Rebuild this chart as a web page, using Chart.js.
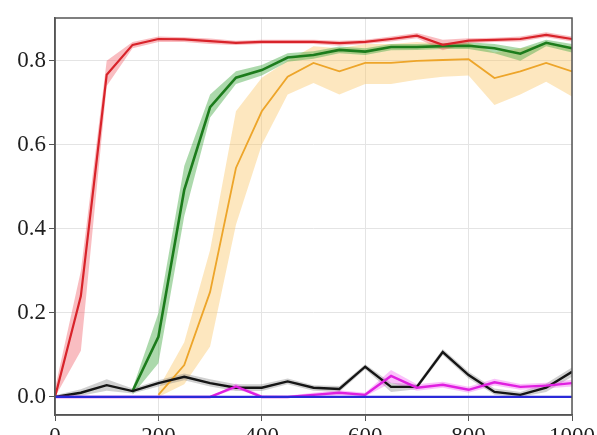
<!DOCTYPE html>
<html>
<head>
<meta charset="utf-8">
<script src="https://cdn.jsdelivr.net/npm/chart.js@4.4.1/dist/chart.umd.min.js"></script>
<style>
  html, body { margin: 0; padding: 0; background: #fff; overflow: hidden; width: 597px; height: 435px; }
  canvas { display: block; }
</style>
</head>
<body>
<canvas id="chart" width="597" height="480"></canvas>
<script>
// training steps (x)
const steps = [0, 50, 100, 150, 200, 250, 300, 350, 400, 450, 500, 550, 600, 650, 700, 750, 800, 850, 900, 950, 1000];

// red run
const redMean = [0, 0.24, 0.767, 0.838, 0.852, 0.851, 0.847, 0.843, 0.845, 0.845, 0.845, 0.842, 0.845, 0.852, 0.86, 0.838, 0.848, 0.85, 0.852, 0.862, 0.852];
const redLow  = [0, 0.11, 0.74, 0.83, 0.845, 0.845, 0.84, 0.838, 0.84, 0.84, 0.84, 0.836, 0.84, 0.846, 0.854, 0.825, 0.842, 0.845, 0.846, 0.856, 0.846];
const redHigh = [0.02, 0.30, 0.80, 0.845, 0.858, 0.856, 0.853, 0.848, 0.85, 0.85, 0.85, 0.848, 0.85, 0.858, 0.866, 0.85, 0.854, 0.855, 0.858, 0.868, 0.858];

// green run (starts at 150)
const greenMean = [null, null, null, 0.014, 0.143, 0.493, 0.69, 0.76, 0.778, 0.808, 0.814, 0.826, 0.822, 0.833, 0.833, 0.835, 0.836, 0.83, 0.817, 0.843, 0.83];
const greenLow  = [null, null, null, 0.005, 0.08, 0.43, 0.665, 0.745, 0.765, 0.798, 0.805, 0.818, 0.814, 0.825, 0.826, 0.828, 0.828, 0.818, 0.80, 0.835, 0.82];
const greenHigh = [null, null, null, 0.02, 0.20, 0.55, 0.72, 0.775, 0.79, 0.818, 0.823, 0.834, 0.83, 0.84, 0.84, 0.842, 0.844, 0.84, 0.83, 0.85, 0.84];

// orange run (starts at 200)
const orangeMean = [null, null, null, null, 0.005, 0.076, 0.25, 0.545, 0.68, 0.762, 0.795, 0.775, 0.795, 0.795, 0.8, 0.802, 0.804, 0.759, 0.775, 0.795, 0.775];
const orangeLow  = [null, null, null, null, 0, 0.03, 0.12, 0.41, 0.60, 0.72, 0.747, 0.72, 0.745, 0.745, 0.755, 0.762, 0.765, 0.695, 0.72, 0.75, 0.715];
const orangeHigh = [null, null, null, null, 0.02, 0.13, 0.35, 0.68, 0.76, 0.80, 0.835, 0.83, 0.84, 0.84, 0.845, 0.842, 0.843, 0.82, 0.83, 0.84, 0.835];

// black run
const blackMean = [0, 0.01, 0.028, 0.014, 0.033, 0.048, 0.033, 0.022, 0.022, 0.037, 0.022, 0.019, 0.072, 0.024, 0.024, 0.107, 0.052, 0.012, 0.005, 0.022, 0.06];
const blackLow  = [0, 0.003, 0.015, 0.008, 0.025, 0.04, 0.025, 0.014, 0.014, 0.03, 0.015, 0.012, 0.066, 0.012, 0.018, 0.1, 0.044, 0.005, 0, 0.012, 0.048];
const blackHigh = [0.004, 0.018, 0.042, 0.02, 0.04, 0.056, 0.042, 0.03, 0.03, 0.044, 0.028, 0.026, 0.078, 0.034, 0.03, 0.114, 0.06, 0.02, 0.012, 0.032, 0.07];

// magenta run
const magentaMean = [0, 0, 0, 0, 0, 0, 0, 0.025, 0, 0, 0.005, 0.01, 0.005, 0.05, 0.022, 0.029, 0.017, 0.035, 0.024, 0.027, 0.033];
const magentaLow  = [0, 0, 0, 0, 0, 0, 0, 0.018, 0, 0, 0.001, 0.004, 0.001, 0.034, 0.015, 0.022, 0.01, 0.027, 0.017, 0.02, 0.025];
const magentaHigh = [0, 0, 0, 0, 0, 0, 0, 0.032, 0.004, 0.003, 0.01, 0.016, 0.01, 0.064, 0.03, 0.036, 0.024, 0.043, 0.031, 0.034, 0.041];

// blue run
const blueMean = [0, 0, 0, 0, 0, 0, 0, 0, 0, 0, 0, 0, 0, 0, 0, 0, 0, 0, 0, 0, 0];

// tick values
const yTicks = [0, 0.2, 0.4, 0.6, 0.8];
const xTicks = [0, 200, 400, 600, 800, 1000];

const pts = (arr) => steps.map((s, i) => ({ x: s, y: arr[i] }));

const series = [
  { mean: blueMean, line: '#2a2ad8', width: 2.2 },
  { mean: magentaMean, low: magentaLow, high: magentaHigh, line: '#e020e0', band: 'rgba(240, 80, 240, 0.35)', width: 2.4 },
  { mean: blackMean, low: blackLow, high: blackHigh, line: '#151515', band: 'rgba(120, 120, 120, 0.35)', width: 2.4 },
  { mean: redMean, low: redLow, high: redHigh, line: '#d8232a', band: 'rgba(240, 90, 100, 0.4)', width: 2.2 },
  { mean: greenMean, low: greenLow, high: greenHigh, line: '#1c7c1c', band: 'rgba(70, 170, 70, 0.45)', width: 2.6 },
  { mean: orangeMean, low: orangeLow, high: orangeHigh, line: '#eda52a', band: 'rgba(250, 195, 95, 0.4)', width: 1.8 }
];

// lines first (first dataset is drawn on top), bands after
const datasets = [];
series.forEach(s => {
  datasets.push({
    data: pts(s.mean),
    borderColor: s.line,
    borderWidth: s.width,
    pointRadius: 0,
    tension: 0,
    fill: false
  });
});
series.forEach(s => {
  if (!s.low) return;
  const lowIndex = datasets.length;
  datasets.push({
    data: pts(s.low),
    borderColor: 'transparent',
    borderWidth: 0,
    pointRadius: 0,
    fill: false
  });
  datasets.push({
    data: pts(s.high),
    borderColor: 'transparent',
    borderWidth: 0,
    pointRadius: 0,
    backgroundColor: s.band,
    fill: { target: lowIndex }
  });
});

// frame around the plot area (top and right spines)
const frame = {
  id: 'frame',
  afterDraw(chart) {
    const { ctx, chartArea: a } = chart;
    ctx.save();
    ctx.strokeStyle = '#555';
    ctx.lineWidth = 1.5;
    ctx.strokeRect(a.left, a.top, a.right - a.left, a.bottom - a.top);
    ctx.restore();
  }
};

const tickFont = { family: "'Liberation Serif', 'Times New Roman', Times, serif", size: 23 };

new Chart(document.getElementById('chart'), {
  type: 'line',
  data: { datasets },
  plugins: [frame],
  options: {
    responsive: false,
    animation: false,
    devicePixelRatio: 1,
    layout: { padding: { top: 18, right: 23, left: 0, bottom: 0 } },
    plugins: {
      legend: { display: false },
      tooltip: { enabled: false },
      filler: { drawTime: 'beforeDatasetsDraw' }
    },
    scales: {
      x: {
        type: 'linear',
        min: 0,
        max: 1000,
        afterBuildTicks: (scale) => { scale.ticks = xTicks.map(v => ({ value: v })); },
        afterFit: (scale) => { scale.height = 65; },
        ticks: { font: tickFont, color: '#1e1e1e', padding: 2, maxRotation: 0, autoSkip: false, callback: (v) => String(v) },
        grid: { color: '#e4e4e4', lineWidth: 1, tickColor: '#555', tickLength: 6 },
        border: { display: true, color: '#555', width: 1.5 }
      },
      y: {
        type: 'linear',
        min: -0.043,
        max: 0.902,
        afterBuildTicks: (scale) => { scale.ticks = yTicks.map(v => ({ value: v })); },
        afterFit: (scale) => { scale.width = 55; },
        ticks: { font: tickFont, color: '#1e1e1e', padding: 3, callback: (v) => v.toFixed(1) },
        grid: { color: '#e4e4e4', lineWidth: 1, tickColor: '#555', tickLength: 6 },
        border: { display: true, color: '#555', width: 1.5 }
      }
    }
  }
});
</script>
</body>
</html>
